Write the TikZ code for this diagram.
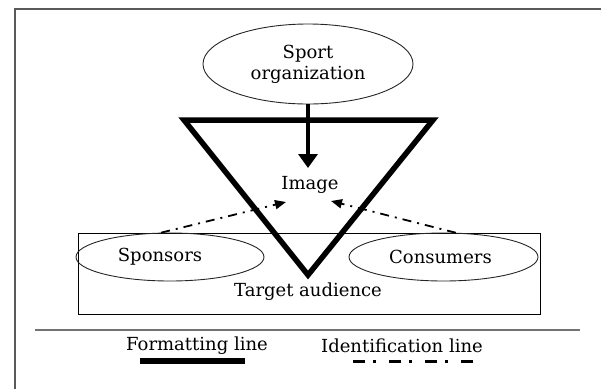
\documentclass[tikz,border=0pt]{standalone}
\usepackage{fontspec}
\setmainfont{DejaVu Serif}
\usetikzlibrary{shapes.geometric,arrows.meta}
\begin{document}
\begin{tikzpicture}[x=1pt,y=-1pt,
  txt/.style={font=\fontsize{18}{21}\selectfont, inner sep=0pt},
  oval/.style={ellipse, draw=black!85, line width=0.9pt, inner sep=0pt, txt, align=center},
  formline/.style={line width=5.5pt},
  identline/.style={line width=1.8pt, dash pattern=on 9pt off 6pt on 2pt off 6pt},
  legendident/.style={line width=3pt, dash pattern=on 12pt off 8pt on 3pt off 13pt},
]
\useasboundingbox (0,0) rectangle (601,389);
% frame
\draw[black!65, line width=1.5pt] (15,389) -- (15,9) -- (601,9);
% target audience box
\node[draw, line width=0.9pt, minimum width=462pt, minimum height=81pt, inner sep=0pt] (box) at (309,273.5) {};
\node[oval, minimum width=188pt, minimum height=48pt] (sponsors) at (170,257) {Sponsors\hspace*{20pt}};
\node[oval, minimum width=189pt, minimum height=48pt] (consumers) at (443.5,257) {Consumers\hspace*{6pt}};
\node[txt] (target) at (308,292) {Target audience};
% sport organization
\node[oval, minimum width=210pt, minimum height=80pt] (sport) at (308,64) {Sport\\organization};
% triangle
\coordinate (tl) at (184,120);
\coordinate (tr) at (433,120);
\coordinate (tb) at (308,275);
\draw[formline, line join=miter] (tl) -- (tr) -- (tb) -- cycle;
% image
\node[txt] (image) at (310,185) {Image};
\coordinate (arrowtip) at (308,168);
\draw[line width=4.5pt, -{Triangle[width=19pt,length=14pt]}] (sport.south) -- (arrowtip);
% identification arrows
\coordinate (lt) at (286,202);
\coordinate (rt) at (331,201);
\draw[identline, -{Triangle[width=9pt,length=11pt]}] (sponsors.110) -- (lt);
\draw[identline, -{Triangle[width=9pt,length=11pt]}] (consumers.63) -- (rt);
% separator
\draw[black!55, line width=1.5pt] (35,330) -- (580,330);
% legend
\node[txt] (fmt) at (197,346) {Formatting line};
\node[txt] (idl) at (402,346) {Identification line};
\coordinate (f1) at (140,361);
\coordinate (f2) at (245,361);
\coordinate (i1) at (353,361);
\coordinate (i2) at (477,361);
\draw[line width=5.5pt] (f1) -- (f2);
\draw[legendident] (i1) -- (i2);
\end{tikzpicture}
\end{document}
